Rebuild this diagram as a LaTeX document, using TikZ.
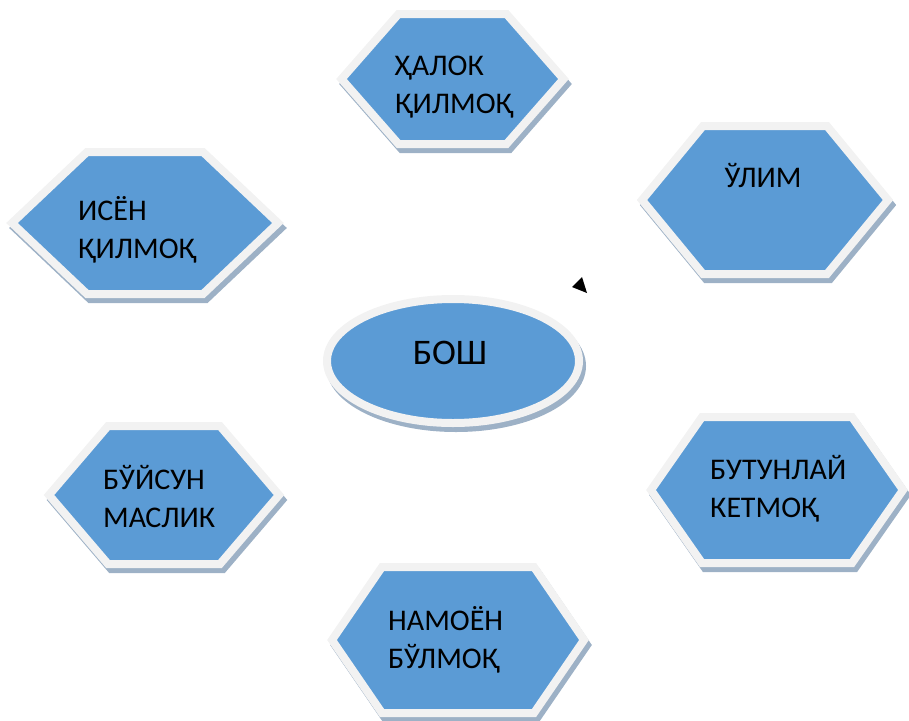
\documentclass[tikz,border=0pt]{standalone}
\usepackage{fontspec}
\setmainfont{Carlito}
\usetikzlibrary{shapes.geometric}

\definecolor{hexblue}{HTML}{5B9BD5}
\definecolor{rimgray}{HTML}{F2F2F2}
\definecolor{shadegray}{HTML}{9DB1C6}

\tikzset{
    shade box/.style={fill=shadegray, draw=shadegray, line width=8pt, line join=miter, shift={(3,5)}},
    blue box/.style={fill=hexblue, draw=rimgray, line width=8pt, line join=miter},
    word/.style={inner sep=0pt, align=left, font=\fontsize{30}{38}\selectfont, anchor=base west},
    pics/hexa/.style n args={3}{code={
        \path[shade box] (-#1,0) -- (-#3,-#2) -- (#3,-#2) -- (#1,0) -- (#3,#2) -- (-#3,#2) -- cycle;
        \path[blue box] (-#1,0) -- (-#3,-#2) -- (#3,-#2) -- (#1,0) -- (#3,#2) -- (-#3,#2) -- cycle;
    }},
}

\begin{document}
\begin{tikzpicture}[x=1pt, y=-1pt]
    \useasboundingbox (0,0) rectangle (909,720);

    % hexagons
    \pic at (452.5,79) {hexa={111}{65}{54}};
    \pic at (145,223) {hexa={133}{71}{58}};
    \pic at (765,200) {hexa={123}{74}{62}};
    \pic at (164,495) {hexa={115}{69}{56}};
    \pic at (777,490) {hexa={126}{73}{75}};
    \pic at (458,640) {hexa={126}{73}{76}};

    % centre ellipse
    \path[shade box] (453,361) ellipse [x radius=126, y radius=62];
    \path[blue box] (453,361) ellipse [x radius=126, y radius=62];

    % texts (base = last line)
    \node[word] (halok) at (395,113) {ҲАЛОК\\ҚИЛМОҚ};
    \node[word] (isyon) at (78,258) {ИСЁН\\ҚИЛМОҚ};
    \node[word, anchor=base] (ulim) at (763,187) {ЎЛИМ};
    \node[word] (buysun) at (103,527) {БЎЙСУН\\МАСЛИК};
    \node[word] (butunlay) at (710,517) {БУТУНЛАЙ\\КЕТМОҚ};
    \node[word] (namoyon) at (388,668) {НАМОЁН\\БЎЛМОҚ};
    \node[word, anchor=base, font=\fontsize{36}{42}\selectfont] (bosh) at (450,364) {БОШ};

    % stray arrow tip
    \fill (572,287) -- (582,277) -- (587,293) -- cycle;
\end{tikzpicture}
\end{document}
